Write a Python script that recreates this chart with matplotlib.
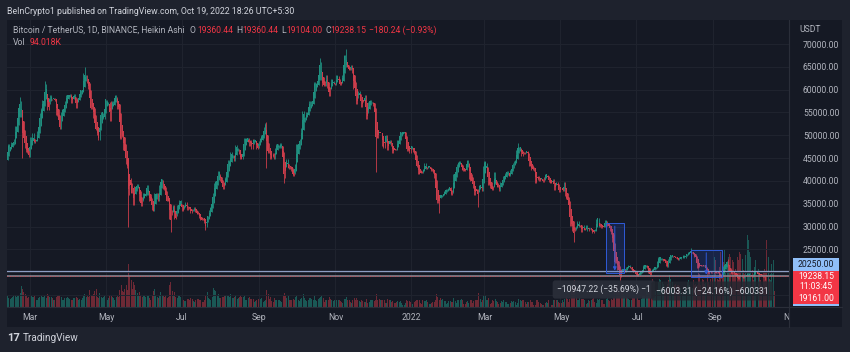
import numpy as np
import pandas as pd
import matplotlib
matplotlib.use("Agg")
import matplotlib.pyplot as plt
import matplotlib.dates as mdates
from matplotlib.patches import Rectangle
from matplotlib.lines import Line2D

# daily closes, thousand USDT (first value is 2021-02-08)
first_day = "2021-02-08"
seed_close = 38.9      # close of the day before the first candle
seed_ha_open = 38.0    # heikin ashi open of the first candle

feb_2021 = [46.4, 46.5, 44.8, 48.0, 47.4, 47.2, 48.6, 47.9, 49.1, 52.1, 51.6, 55.9, 55.8, 57.4, 54.1,
            48.9, 49.7, 47.1, 46.3, 46.2, 45.2]
mar_2021 = [49.6, 48.4, 50.5, 48.4, 48.8, 48.9, 51.0, 52.4, 54.9, 55.9, 57.8, 57.3, 61.2, 59.0, 55.6,
            56.9, 58.9, 57.7, 58.0, 58.1, 57.4, 54.5, 54.3, 52.3, 51.3, 55.0, 55.8, 55.8, 57.6, 58.8, 58.8]
apr_2021 = [58.7, 59.0, 57.1, 58.2, 59.1, 58.0, 56.0, 58.1, 58.1, 59.8, 60.0, 59.9, 63.6, 62.3, 63.2,
            61.4, 60.1, 56.2, 55.7, 56.5, 53.8, 51.7, 51.1, 50.0, 49.0, 54.0, 55.0, 54.9, 53.6, 57.8]
may_2021 = [57.8, 56.6, 57.2, 53.2, 57.5, 56.4, 57.4, 58.9, 58.3, 55.8, 56.7, 49.2, 49.7, 49.9, 46.8,
            46.4, 43.6, 42.9, 37.0, 40.7, 37.3, 37.5, 34.8, 38.8, 38.4, 39.3, 38.5, 35.7, 34.6, 35.7, 37.3]
jun_2021 = [36.7, 37.6, 39.2, 36.9, 35.5, 35.8, 33.6, 33.4, 37.4, 36.7, 37.3, 35.6, 39.1, 40.5, 40.2,
            38.3, 38.1, 35.8, 35.5, 35.6, 31.7, 32.5, 33.7, 34.7, 31.6, 32.2, 34.7, 34.5, 35.9, 35.0]
jul_2021 = [33.5, 33.8, 34.7, 35.3, 33.7, 34.2, 33.9, 32.9, 33.8, 33.5, 34.3, 33.1, 32.7, 32.8, 31.8,
            31.4, 31.5, 31.8, 30.8, 29.8, 32.1, 32.3, 33.6, 34.3, 35.4, 37.3, 39.5, 40.0, 40.0, 42.2, 41.5]
aug_2021 = [39.9, 39.2, 38.2, 39.7, 40.9, 42.8, 44.6, 43.8, 46.3, 45.6, 45.6, 44.4, 47.8, 47.1, 47.0,
            45.9, 44.7, 44.7, 46.8, 49.3, 48.9, 49.3, 49.5, 47.7, 48.9, 47.0, 49.1, 48.9, 48.8, 47.0, 47.2]
sep_2021 = [48.8, 49.3, 50.0, 49.9, 51.8, 52.7, 46.9, 46.1, 46.4, 44.8, 45.2, 46.1, 44.9, 47.1, 48.1,
            47.8, 47.3, 48.3, 47.3, 43.0, 40.7, 43.6, 44.9, 42.8, 42.7, 43.2, 42.2, 41.0, 41.5, 43.8]
oct_2021 = [48.1, 47.7, 48.2, 49.2, 51.5, 55.3, 53.8, 53.9, 55.0, 54.7, 57.5, 56.0, 57.4, 57.4, 61.7,
            60.9, 61.5, 62.0, 64.3, 66.0, 62.2, 60.7, 61.3, 60.9, 63.1, 60.3, 58.5, 60.6, 62.3, 61.9, 61.3]
nov_2021 = [61.0, 63.2, 62.9, 61.4, 61.0, 61.5, 63.3, 67.6, 66.9, 64.9, 64.9, 64.2, 64.4, 65.5, 63.6,
            60.1, 60.4, 56.9, 58.1, 59.8, 58.7, 56.3, 57.6, 57.2, 58.9, 53.6, 54.8, 57.3, 57.8, 57.0]
dec_2021 = [57.2, 56.5, 53.6, 49.4, 49.4, 50.6, 50.6, 50.5, 47.6, 47.1, 49.4, 50.1, 46.7, 48.4, 48.9,
            47.6, 46.2, 46.9, 46.7, 46.9, 49.0, 48.6, 50.8, 50.4, 50.8, 50.7, 50.7, 47.5, 46.5, 47.1, 46.2]
jan_2022 = [47.7, 47.3, 46.4, 45.8, 43.4, 43.1, 41.5, 41.7, 41.8, 41.8, 42.7, 43.9, 42.6, 43.1, 43.2,
            43.1, 42.2, 42.4, 41.7, 40.7, 36.4, 35.1, 36.3, 36.7, 36.9, 36.8, 37.2, 37.7, 38.2, 37.9, 38.5]
feb_2022 = [38.7, 36.9, 37.3, 41.6, 41.4, 42.4, 43.8, 44.1, 44.3, 43.6, 42.4, 42.2, 42.1, 42.6, 44.6,
            43.9, 40.5, 40.0, 40.1, 38.4, 37.0, 38.3, 37.3, 38.3, 39.2, 39.1, 37.7, 43.2]
mar_2022 = [44.4, 44.0, 42.5, 39.1, 39.4, 38.4, 37.9, 38.7, 41.9, 39.4, 38.7, 38.8, 37.8, 39.7, 39.3,
            41.1, 40.9, 41.8, 42.2, 41.3, 41.0, 42.4, 42.9, 44.0, 44.3, 44.5, 46.8, 47.1, 47.5, 47.1, 45.5]
apr_2022 = [46.3, 45.8, 46.4, 46.6, 45.5, 43.2, 43.4, 42.3, 42.8, 42.2, 39.5, 40.1, 41.1, 39.9, 40.6,
            40.4, 39.7, 40.8, 41.5, 41.4, 40.5, 39.7, 39.5, 39.5, 40.4, 38.1, 39.2, 39.7, 38.6, 37.6]
may_2022 = [38.5, 38.5, 37.7, 39.7, 36.6, 36.0, 35.5, 34.1, 30.1, 31.0, 29.1, 29.0, 29.3, 30.1, 31.3,
            29.9, 30.4, 28.7, 30.3, 29.2, 29.4, 30.3, 29.1, 29.7, 29.5, 29.2, 28.6, 29.0, 29.4, 31.7, 31.8]
jun_2022 = [29.8, 30.4, 29.7, 29.9, 29.9, 31.4, 31.1, 30.2, 30.1, 29.1, 28.4, 26.6, 22.5, 22.1, 22.6,
            20.4, 20.5, 19.0, 20.6, 20.6, 20.7, 20.0, 21.1, 21.2, 21.5, 21.0, 20.7, 20.3, 20.1, 19.9]
jul_2022 = [19.3, 19.2, 19.3, 20.2, 20.2, 20.5, 21.6, 21.6, 21.6, 20.8, 19.9, 19.3, 20.2, 20.6, 20.8,
            21.2, 20.8, 22.4, 23.4, 23.2, 23.2, 22.7, 22.5, 22.6, 21.3, 21.2, 22.9, 23.8, 23.8, 23.6, 23.3]
aug_2022 = [23.3, 23.0, 22.8, 22.6, 23.3, 23.2, 23.2, 23.8, 23.2, 23.9, 23.9, 24.4, 24.4, 24.3, 24.1,
            23.9, 23.3, 23.2, 20.8, 21.1, 21.5, 21.4, 21.5, 21.4, 21.6, 20.2, 20.0, 19.6, 20.3, 19.8, 20.1]
sep_2022 = [20.1, 19.9, 19.8, 20.0, 19.8, 18.8, 19.3, 19.3, 21.4, 21.6, 21.8, 22.4, 20.2, 20.2, 19.7,
            19.8, 20.1, 19.4, 19.5, 19.0, 18.5, 19.4, 19.3, 18.9, 18.8, 19.2, 19.1, 19.4, 19.6, 19.4]
oct_2022 = [19.3, 19.0, 19.6, 20.3, 20.2, 19.9, 19.5, 19.4, 19.4, 19.1, 19.0, 19.2, 19.4, 19.2, 19.1,
            19.3, 19.5, 19.3, 19.24]

# wick extremes on the days with long shadows (thousand USDT)
day_highs = {"2021-02-21": 58.4, "2021-03-13": 61.8, "2021-04-14": 64.9, "2021-09-07": 52.9,
             "2021-10-20": 67.0, "2021-11-10": 69.0, "2022-03-28": 48.2, "2022-08-14": 25.2,
             "2022-09-13": 22.8}
day_lows = {"2021-02-23": 45.0, "2021-05-19": 30.0, "2021-06-22": 28.8, "2021-07-20": 29.3,
            "2021-09-07": 42.8, "2021-09-21": 39.6, "2021-12-04": 42.0, "2022-01-24": 32.9,
            "2022-02-24": 34.3, "2022-05-12": 26.7, "2022-06-18": 17.6, "2022-10-13": 18.2}

# daily volume, thousand BTC
vol_feb_2021 = [110, 70, 62, 66, 55, 48, 52, 58, 66, 70, 62, 75, 70, 85, 125, 110, 88, 80, 72, 52, 60]
vol_mar_2021 = [72, 66, 62, 60, 65, 40, 45, 55, 62, 65, 58, 60, 70, 55, 80, 70, 62, 60, 52, 40,
                45, 62, 66, 70, 75, 60, 42, 40, 55, 52, 58]
vol_apr_2021 = [55, 48, 45, 40, 55, 52, 60, 52, 45, 48, 40, 55, 70, 78, 60, 75, 60, 105, 75, 70,
                78, 95, 110, 60, 55, 85, 60, 55, 58, 65]
vol_may_2021 = [45, 40, 55, 75, 65, 58, 52, 45, 60, 70, 62, 100, 130, 95, 90, 110, 130, 105, 260, 180,
                160, 110, 150, 130, 105, 85, 70, 90, 75, 60, 70]
vol_jun_2021 = [75, 60, 65, 70, 55, 45, 70, 95, 110, 75, 60, 55, 70, 90, 75, 70, 60, 75, 55, 60,
                130, 150, 95, 75, 90, 60, 55, 70, 70, 60]
vol_jul_2021 = [55, 45, 35, 38, 50, 50, 45, 55, 50, 35, 30, 45, 48, 50, 45, 40, 30, 32, 45, 65,
                90, 55, 50, 40, 60, 115, 100, 95, 75, 80, 55]
vol_aug_2021 = [55, 62, 60, 65, 70, 75, 70, 62, 78, 55, 55, 60, 72, 50, 55, 60, 70, 60, 60, 65,
                45, 40, 55, 60, 48, 50, 48, 30, 35, 45, 50]
vol_sep_2021 = [55, 50, 52, 30, 35, 45, 100, 80, 50, 60, 38, 32, 55, 45, 45, 40, 42, 35, 30, 75,
                85, 65, 55, 70, 45, 45, 45, 50, 45, 60]
vol_oct_2021 = [70, 45, 38, 50, 55, 80, 55, 45, 35, 40, 55, 55, 50, 40, 70, 40, 38, 50, 55, 60,
                75, 55, 30, 40, 40, 45, 60, 50, 45, 35, 40]
vol_nov_2021 = [45, 40, 42, 40, 38, 28, 25, 50, 50, 60, 40, 42, 30, 25, 40, 55, 45, 55, 45, 35,
                30, 40, 35, 30, 30, 50, 25, 30, 40, 45]
vol_dec_2021 = [40, 35, 45, 80, 45, 50, 40, 40, 40, 40, 25, 25, 50, 40, 45, 30, 35, 25, 25, 30,
                35, 30, 35, 25, 15, 15, 25, 40, 35, 35, 30]
vol_jan_2022 = [18, 20, 30, 35, 45, 45, 40, 25, 20, 40, 35, 35, 40, 30, 20, 18, 25, 30, 30, 40,
                80, 60, 40, 55, 45, 50, 35, 35, 20, 25, 35]
vol_feb_2022 = [35, 30, 30, 55, 35, 25, 45, 45, 40, 50, 40, 20, 20, 30, 35, 25, 45, 40, 25, 35,
                45, 40, 40, 85, 50, 30, 40, 70]
vol_mar_2022 = [75, 45, 40, 55, 20, 25, 40, 35, 50, 35, 30, 20, 25, 35, 30, 40, 30, 30, 20, 20,
                25, 35, 30, 35, 30, 15, 25, 50, 40, 35, 40]
vol_apr_2022 = [40, 30, 20, 30, 30, 40, 30, 30, 15, 15, 45, 40, 30, 25, 20, 15, 15, 25, 30, 25,
                45, 30, 15, 15, 40, 45, 40, 40, 30, 25]
vol_may_2022 = [25, 40, 30, 50, 75, 50, 30, 50, 120, 110, 150, 160, 60, 45, 40, 55, 50, 50, 50, 45,
                20, 25, 45, 35, 40, 50, 55, 30, 25, 50, 45]
vol_jun_2022 = [50, 45, 40, 20, 20, 50, 55, 45, 35, 50, 40, 60, 140, 130, 130, 100, 90, 130, 100, 80,
                70, 60, 55, 50, 40, 40, 55, 55, 55, 65]
vol_jul_2022 = [60, 45, 40, 50, 70, 70, 75, 120, 90, 100, 130, 140, 170, 140, 110, 95, 100, 150, 170, 165,
                150, 140, 110, 100, 140, 160, 190, 170, 150, 110, 130]
vol_aug_2022 = [140, 135, 130, 125, 115, 80, 85, 120, 115, 150, 160, 130, 105, 115, 160, 130, 140, 130, 250, 200,
                130, 170, 160, 140, 145, 230, 150, 130, 170, 190, 170]
vol_sep_2022 = [300, 280, 170, 160, 240, 330, 310, 270, 350, 260, 250, 300, 320, 300, 280, 270, 180, 230, 300, 280,
                330, 320, 290, 220, 200, 310, 430, 400, 330, 300]
vol_oct_2022 = [220, 160, 240, 280, 260, 230, 200, 160, 130, 210, 230, 210, 400, 300, 170, 160, 260, 280, 94]

# price range measurements drawn on the chart
measure_start = ["2022-06-07", "2022-08-14"]
measure_end = ["2022-06-21", "2022-09-08"]
measure_from = [30673.44, 24848.62]
measure_to = [19726.22, 18845.31]
measure_text = ["\u221210947.22 (\u221235.69%) \u22121", "\u22126003.31 (\u221224.16%) \u2212600331"]

hlines = [20250.00, 19161.00]
last_price = 19238.15
month_ticks = ["2021-03-01", "2021-05-01", "2021-07-01", "2021-09-01", "2021-11-01", "2022-01-01",
               "2022-03-01", "2022-05-01", "2022-07-01", "2022-09-01", "2022-11-01"]
month_labels = ["Mar", "May", "Jul", "Sep", "Nov", "2022", "Mar", "May", "Jul", "Sep", "Nov"]
price_ticks = list(range(15000, 70001, 5000))

# colours
outer_bg = "#1e222d"
pane_bg = "#151924"
grid_c = "#20242f"
text_c = "#b2b5be"
up_c = "#1f8f7f"
down_c = "#cc3d4b"
vol_up_c = "#1d6e66"
vol_down_c = "#8c2f3b"
red_c = "#f23645"

plt.rcParams["font.family"] = ["Roboto", "DejaVu Sans"]

# ---- heikin ashi from daily closes
closes = np.array(feb_2021 + mar_2021 + apr_2021 + may_2021 + jun_2021 + jul_2021 + aug_2021 + sep_2021
                  + oct_2021 + nov_2021 + dec_2021 + jan_2022 + feb_2022 + mar_2022 + apr_2022 + may_2022
                  + jun_2022 + jul_2022 + aug_2022 + sep_2022 + oct_2022) * 1000
volumes = np.array(vol_feb_2021 + vol_mar_2021 + vol_apr_2021 + vol_may_2021 + vol_jun_2021 + vol_jul_2021
                   + vol_aug_2021 + vol_sep_2021 + vol_oct_2021 + vol_nov_2021 + vol_dec_2021 + vol_jan_2022
                   + vol_feb_2022 + vol_mar_2022 + vol_apr_2022 + vol_may_2022 + vol_jun_2022 + vol_jul_2022
                   + vol_aug_2022 + vol_sep_2022 + vol_oct_2022, dtype=float)
dates = pd.date_range(first_day, periods=len(closes), freq="D")
x = mdates.date2num(dates.to_pydatetime())

opens = np.r_[seed_close * 1000, closes[:-1]]
highs = np.maximum(opens, closes)
lows = np.minimum(opens, closes)
for d, v in day_highs.items():
    i = (pd.Timestamp(d) - dates[0]).days
    highs[i] = max(highs[i], v * 1000)
for d, v in day_lows.items():
    i = (pd.Timestamp(d) - dates[0]).days
    lows[i] = min(lows[i], v * 1000)

ha_close = (opens + highs + lows + closes) / 4
ha_open = np.empty_like(ha_close)
ha_open[0] = seed_ha_open * 1000
for i in range(1, len(ha_close)):
    ha_open[i] = (ha_open[i - 1] + ha_close[i - 1]) / 2
ha_high = np.maximum.reduce([highs, ha_open, ha_close])
ha_low = np.minimum.reduce([lows, ha_open, ha_close])
up = ha_close >= ha_open
cols = np.where(up, up_c, down_c)
vcols = np.where(up, vol_up_c, vol_down_c)

# ---- layout in pixels
W, H = 850, 352


def box(x0, y0, x1, y1):
    return [x0 / W, 1 - y1 / H, (x1 - x0) / W, (y1 - y0) / H]


base = mdates.date2num(pd.Timestamp("2021-03-01"))
px_day = 1.247
xlim = (base + (7 - 30) / px_day, base + (789 - 30) / px_day)

fig = plt.figure(figsize=(8.5, 3.52), dpi=100, facecolor=outer_bg)
fig.patches.append(Rectangle((7 / W, 1 - 327 / H), 835 / W, 307 / H, transform=fig.transFigure,
                             facecolor=pane_bg, edgecolor="none", zorder=-5))
fig.lines.append(Line2D([789 / W, 789 / W], [1 - 327 / H, 1 - 20 / H], transform=fig.transFigure,
                        color="#2a2e39", lw=0.8))
fig.lines.append(Line2D([7 / W, 842 / W], [1 - 307 / H, 1 - 307 / H], transform=fig.transFigure,
                        color="#2a2e39", lw=0.8))

# volume pane (own scale, behind candles)
vax = fig.add_axes(box(7, 20, 789, 307))
vax.patch.set_visible(False)
vax.bar(x, volumes, width=0.8, color=vcols, alpha=0.75, linewidth=0)
vax.set_xlim(xlim)
vax.set_ylim(0, 1722)
vax.axis("off")

ax = fig.add_axes(box(7, 20, 789, 307))
ax.set_zorder(vax.get_zorder() + 1)
ax.patch.set_visible(False)
for s in ax.spines.values():
    s.set_visible(False)
ax.set_xlim(xlim)
ax.set_ylim(12362, 75260)
ax.set_xticks(mdates.date2num(pd.to_datetime(month_ticks).to_pydatetime()))
ax.set_yticks(price_ticks)
ax.set_yticklabels([f"{v:.2f}" if v >= 25000 else "" for v in price_ticks])
ax.yaxis.tick_right()
ax.tick_params(axis="y", length=0, pad=10, labelsize=6.2, labelcolor=text_c)
ax.tick_params(axis="x", length=0, labelbottom=False)
ax.grid(True, color=grid_c, lw=0.7)
ax.set_axisbelow(True)

ax.vlines(x, ha_low, ha_high, colors=cols, lw=0.6, zorder=2)
ax.bar(x, np.abs(ha_close - ha_open) + 40, bottom=np.minimum(ha_open, ha_close),
       width=0.8, color=cols, linewidth=0, zorder=3)

# horizontal lines and last price line
ax.axhline(hlines[0], color="#8d9ec4", lw=0.9, zorder=4)
ax.axhline(hlines[1], color="#8a8d98", lw=1.1, zorder=4)
ax.axhline(last_price, color=red_c, lw=0.6, ls=(0, (1, 2)), zorder=4)

# price range boxes
for s, e, p0, p1 in zip(measure_start, measure_end, measure_from, measure_to):
    x0 = mdates.date2num(pd.Timestamp(s))
    x1 = mdates.date2num(pd.Timestamp(e))
    ax.add_patch(Rectangle((x0, p1), x1 - x0, p0 - p1, facecolor="#2962ff", alpha=0.16,
                           edgecolor="none", zorder=5))
    ax.add_patch(Rectangle((x0, p1), x1 - x0, p0 - p1, facecolor="none", edgecolor="#2f5bd8",
                           lw=0.7, zorder=5))
    xm = (x0 + x1) / 2
    ax.annotate("", xy=(xm, p1), xytext=(xm, p0),
                arrowprops=dict(arrowstyle="-|>", color="#2f5bd8", lw=0.7, mutation_scale=5), zorder=6)

fig.text(557 / W, 1 - 289.5 / H, measure_text[0], fontsize=6.2, color="#d1d4dc", va="center",
         bbox=dict(boxstyle="round,pad=0.5,rounding_size=0.3", fc="#2a2e39", ec="none", alpha=0.95))
fig.text(656 / W, 1 - 291 / H, measure_text[1], fontsize=6.2, color="#d1d4dc", va="center",
         bbox=dict(boxstyle="round,pad=0.55,rounding_size=0.3", fc="#22262f", ec="none", alpha=0.8))

# time scale
tax = fig.add_axes(box(7, 307, 789, 327))
tax.set_xlim(xlim)
tax.set_ylim(0, 1)
tax.axis("off")
for d, lab in zip(month_ticks, month_labels):
    tax.text(mdates.date2num(pd.Timestamp(d)), 0.45, lab, ha="center", va="center",
             fontsize=6.2, color=text_c, clip_on=True)

# price scale labels
fig.text(799 / W, 1 - 29 / H, "USDT", fontsize=6.2, color=text_c, va="center")
fig.patches.append(Rectangle((793 / W, 1 - 270.5 / H), 46 / W, 12.5 / H, transform=fig.transFigure,
                             facecolor="#90bff9", edgecolor="none"))
fig.patches.append(Rectangle((793 / W, 1 - 303.5 / H), 46 / W, 33 / H, transform=fig.transFigure,
                             facecolor=red_c, edgecolor="none"))
fig.patches.append(Rectangle((793 / W, 1 - 306 / H), 46 / W, 2.5 / H, transform=fig.transFigure,
                             facecolor="#90bff9", edgecolor="none"))
fig.text(816 / W, 1 - 264.3 / H, f"{hlines[0]:.2f}", fontsize=6.2, color="#131722", ha="center", va="center")
fig.text(816 / W, 1 - 276.5 / H, f"{last_price:.2f}", fontsize=6.2, color="white", ha="center", va="center")
fig.text(816 / W, 1 - 286.5 / H, "11:03:45", fontsize=6.2, color="white", ha="center", va="center")
fig.text(816 / W, 1 - 298.5 / H, f"{hlines[1]:.2f}", fontsize=6.2, color="white", ha="center", va="center")

# header and legend
fig.text(7 / W, 1 - 11 / H, "BeInCrypto1 published on TradingView.com, Oct 19, 2022 18:26 UTC+5:30",
         fontsize=6.3, color="#d1d4dc", va="center")
legend_parts = [(13, "Bitcoin / TetherUS, 1D, BINANCE, Heikin Ashi", text_c), (190, "O", text_c),
                (197, "19360.44", red_c), (236, "H", text_c), (242, "19360.44", red_c),
                (281, "L", text_c), (286, "19104.00", red_c), (325, "C", text_c),
                (330, "19238.15", red_c), (369, "\u2212180.24 (\u22120.93%)", red_c)]
for px, s, c in legend_parts:
    fig.text(px / W, 1 - 30.5 / H, s, fontsize=6.2, color=c, va="center")
fig.text(13 / W, 1 - 42.7 / H, "Vol", fontsize=6.2, color=text_c, va="center")
fig.text(30 / W, 1 - 42.7 / H, "94.018K", fontsize=6.2, color=red_c, va="center")

# footer logo
fig.text(7 / W, 1 - 338 / H, "17", fontsize=8, fontweight="bold", color="#d1d4dc", va="center")
fig.text(23 / W, 1 - 338 / H, "TradingView", fontsize=7.2, color="#d1d4dc", va="center")

fig.savefig("out.png", dpi=100, facecolor=outer_bg)
